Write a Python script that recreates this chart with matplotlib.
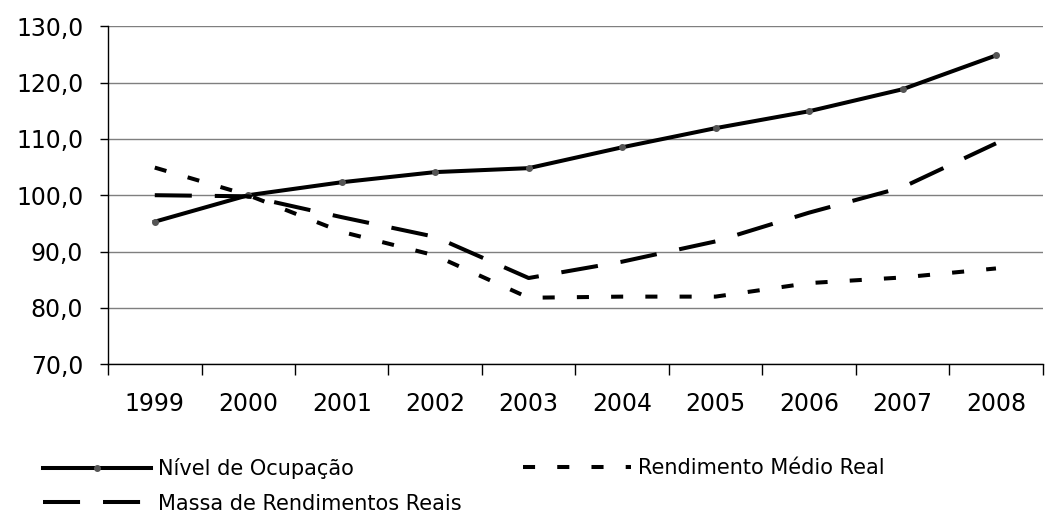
import numpy as np
import matplotlib.pyplot as plt

plt.rcParams['font.family'] = ['DejaVu Sans']

anos = ["1999", "2000", "2001", "2002", "2003", "2004", "2005", "2006", "2007", "2008"]
ocupacao = [95.3, 100.0, 102.3, 104.1, 104.8, 108.5, 111.9, 114.9, 118.8, 124.8]
rend_medio = [104.9, 100.0, 93.5, 89.3, 81.8, 82.0, 82.0, 84.4, 85.4, 87.0]
massa = [100.0, 99.8, 96.1, 92.6, 85.3, 88.2, 91.8, 96.9, 101.4, 109.2]

x = np.arange(len(anos))

fig = plt.figure(figsize=(10.49, 5.13), dpi=100)
ax = fig.add_axes([0.103, 0.29, 0.891, 0.659])

l1, = ax.plot(x, ocupacao, color="black", lw=2.9, marker="o", ms=4,
              mfc="#555555", mec="#555555", label="Nível de Ocupação")
l2, = ax.plot(x, rend_medio, color="black", lw=2.9, dashes=(3, 5.5),
              label="Rendimento Médio Real")
l3, = ax.plot(x, massa, color="black", lw=2.9, dashes=(9.2, 5.7),
              label="Massa de Rendimentos Reais")

ax.set_xlim(-0.5, len(anos) - 0.5)
ax.set_ylim(70, 130)
yt = np.arange(70, 131, 10)
ax.set_yticks(yt)
ax.set_yticklabels([f"{v:.1f}".replace(".", ",") for v in yt])
ax.yaxis.grid(True, color="#7f7f7f", lw=1)
ax.set_axisbelow(True)

ax.set_xticks(x)
ax.set_xticklabels(anos)
ax.set_xticks(np.arange(-0.5, len(anos)), minor=True)
ax.tick_params(axis="x", which="major", length=0, pad=20, labelsize=17)
ax.tick_params(axis="x", which="minor", length=8, width=1, direction="out")
ax.tick_params(axis="y", length=5.8, width=1, pad=12, labelsize=17)

for s in ["top", "right"]:
    ax.spines[s].set_visible(False)
for s in ["left", "bottom"]:
    ax.spines[s].set_color("black")
    ax.spines[s].set_linewidth(1)

leg_kw = dict(loc="upper left", frameon=False, fontsize=15, handlelength=5.2,
              handletextpad=0.3, labelspacing=0.7, borderpad=0,
              borderaxespad=0, numpoints=1)
fig.legend([l1, l3], [l1.get_label(), l3.get_label()],
           bbox_to_anchor=(0.041, 0.107), **leg_kw)
fig.legend([l2], [l2.get_label()],
           bbox_to_anchor=(0.4986, 0.107), **leg_kw)

plt.savefig("out.png", dpi=100)
